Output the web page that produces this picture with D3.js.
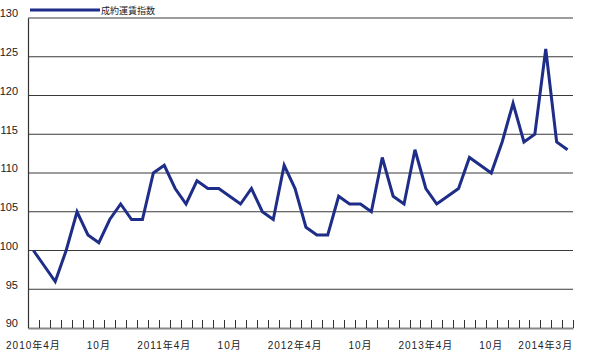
<!DOCTYPE html>
<html><head><meta charset="utf-8">
<script src="https://cdn.jsdelivr.net/npm/d3@7"></script>
<style>
html,body{margin:0;padding:0;background:#fff;}
text{font-family:"Liberation Sans","Noto Sans CJK JP",sans-serif;fill:#222;}
</style></head>
<body><svg id="c" width="600" height="361"></svg>
<script>
const months = [
 "2010-04","2010-05","2010-06","2010-07","2010-08","2010-09","2010-10","2010-11","2010-12",
 "2011-01","2011-02","2011-03","2011-04","2011-05","2011-06","2011-07","2011-08","2011-09","2011-10","2011-11","2011-12",
 "2012-01","2012-02","2012-03","2012-04","2012-05","2012-06","2012-07","2012-08","2012-09","2012-10","2012-11","2012-12",
 "2013-01","2013-02","2013-03","2013-04","2013-05","2013-06","2013-07","2013-08","2013-09","2013-10","2013-11","2013-12",
 "2014-01","2014-02","2014-03","2014-04","2014-05"
];
const values = [
 100,98,96,100,105,102,101,104,106,
 104,104,110,111,108,106,109,108,108,107,106,108,
 105,104,111,108,103,102,102,107,106,106,105,112,
 107,106,113,108,106,107,108,112,111,110,114,119,
 114,115,126,114,113
];
const seriesName = "成約運賃指数";
const tickLabels = {
 "2010-04":"2010年4月","2010-10":"10月","2011-04":"2011年4月","2011-10":"10月",
 "2012-04":"2012年4月","2012-10":"10月","2013-04":"2013年4月","2013-10":"10月","2014-03":"2014年3月"
};
const yTicks = [90,95,100,105,110,115,120,125,130];

(function(){
const svg = d3.select("#c");
const pL = 28, pR = 573, pT = 18, pB = 328;
const x = d3.scaleBand().domain(months).range([pL, pR]);
const y = d3.scaleLinear().domain([90,130]).range([pB, pT]);
const lineColor = "#1e2d87";

// gridlines
svg.append("g").selectAll("line").data(yTicks.filter(v => v > 90)).join("line")
  .attr("x1", pL).attr("x2", pR)
  .attr("y1", d => y(d)).attr("y2", d => y(d))
  .attr("stroke", "#3a3a3a").attr("stroke-width", 1);

// y axis
const yAxis = d3.axisLeft(y).tickValues(yTicks).tickSize(0).tickPadding(10);
const gy = svg.append("g").attr("transform", `translate(${pL},0)`).call(yAxis);
gy.select(".domain").attr("stroke", "#333").attr("stroke-width", 1.2);
gy.selectAll("text").attr("font-size", 11).attr("dy", "-0.1em").attr("fill", "#222");

// x axis baseline & ticks (pointing up)
const xAxis = d3.axisBottom(x).tickSize(0).tickFormat(d => tickLabels[d] || "");
const gx = svg.append("g").attr("transform", `translate(0,${pB})`).call(xAxis);
gx.select(".domain").attr("stroke", "#888").attr("stroke-width", 2);
gx.selectAll("text").attr("font-size", 10).attr("dy", "1.75em").attr("fill", "#222")
  .attr("letter-spacing", "1px");
const bounds = months.map(m => x(m)).concat([x(months[months.length-1]) + x.bandwidth()]);
svg.append("g").selectAll("line").data(bounds).join("line")
  .attr("x1", d => Math.round(d) + 0.5).attr("x2", d => Math.round(d) + 0.5)
  .attr("y1", pB - 8).attr("y2", pB)
  .attr("stroke", "#333").attr("stroke-width", 1);

// series line
const line = d3.line().x((d, i) => x(months[i]) + x.bandwidth()/2).y(d => y(d));
svg.append("path").datum(values).attr("d", line)
  .attr("fill", "none").attr("stroke", lineColor).attr("stroke-width", 3)
  .attr("stroke-linejoin", "miter");

// legend
svg.append("line").attr("x1", 30).attr("x2", 100).attr("y1", 10).attr("y2", 10)
  .attr("stroke", lineColor).attr("stroke-width", 3);
svg.append("text").attr("x", 101).attr("y", 13.5).attr("font-size", 9).text(seriesName);
})();
</script></body></html>
